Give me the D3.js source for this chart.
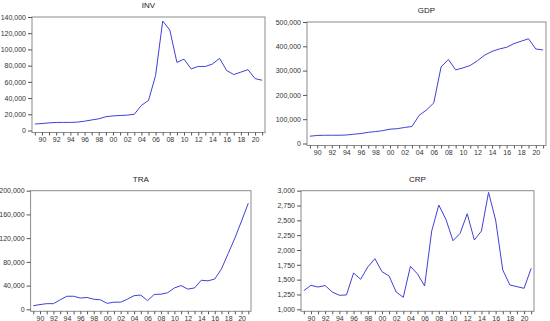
<!DOCTYPE html>
<html>
<head>
<meta charset="utf-8">
<script src="https://cdn.jsdelivr.net/npm/d3@7"></script>
<style>
  body { margin: 0; background: #fff; }
  svg { display: block; font-family: "Liberation Sans", Arial, sans-serif; }
</style>
</head>
<body>
<svg id="chart" width="550" height="321"></svg>
<script>
// years 1989..2021
const years = d3.range(1989, 2022);

const inv = [8000, 8600, 9400, 9900, 10000, 10000, 10300, 11500, 13000, 14400,
  17000, 18000, 18500, 19000, 20000, 31000, 37000, 68000, 135000, 124000,
  84000, 88000, 76000, 79000, 79000, 82000, 89000, 74000, 69000, 72000,
  75000, 64000, 62000];

const gdp = [30000, 33000, 34000, 34000, 34000, 35000, 38000, 41000, 46000, 49000,
  53000, 59000, 61000, 66000, 70000, 116000, 138000, 167000, 315000, 346000,
  303000, 311000, 321000, 341000, 364000, 379000, 389000, 396000, 411000, 421000,
  431000, 389000, 385000];

const tra = [6000, 8000, 9500, 9500, 16000, 22000, 22000, 19000, 20000, 17000,
  16000, 10000, 12000, 12000, 17000, 23000, 24000, 14600, 25000, 25500,
  28000, 36000, 40000, 34000, 36000, 49000, 48000, 51000, 68000, 94000,
  120000, 149000, 179000];

const crp = [1315, 1405, 1376, 1400, 1292, 1236, 1242, 1612, 1506, 1713,
  1854, 1635, 1562, 1292, 1202, 1725, 1596, 1393, 2320, 2758,
  2517, 2157, 2281, 2612, 2168, 2320, 2972, 2506, 1663, 1410,
  1382, 1354, 1690];

const invTicks = d3.range(0, 140001, 20000);
const gdpTicks = d3.range(0, 500001, 100000);
const traTicks = d3.range(0, 200001, 40000);
const crpTicks = d3.range(1000, 3001, 250);

const panels = [
  {title: 'INV', values: inv, ticks: invTicks, box: {l: 32, r: 265, t: 17, b: 132.5}},
  {title: 'GDP', values: gdp, ticks: gdpTicks, box: {l: 307, r: 546, t: 22, b: 145.5}},
  {title: 'TRA', values: tra, ticks: traTicks, box: {l: 30.6, r: 251, t: 190.7, b: 311.3}},
  {title: 'CRP', values: crp, ticks: crpTicks, box: {l: 301, r: 534, t: 190.7, b: 311.3}}
];

const svg = d3.select('#chart');
const lineColor = '#4040d8';

panels.forEach(p => {
  const b = p.box;
  const g = svg.append('g');

  const x = d3.scaleLinear()
    .domain([1989 - 0.4, 2021 + 0.4])
    .range([b.l, b.r]);
  const y = d3.scaleLinear()
    .domain(d3.extent(p.ticks))
    .range([b.b - 2, b.t]);

  // frame
  g.append('rect')
    .attr('x', b.l).attr('y', b.t)
    .attr('width', b.r - b.l).attr('height', b.b - b.t)
    .attr('fill', 'none')
    .attr('stroke', '#8c8c8c')
    .attr('stroke-width', 1);

  // y axis
  const yAxis = g.append('g')
    .attr('transform', `translate(${b.l},0)`)
    .call(d3.axisLeft(y).tickValues(p.ticks).tickFormat(d3.format(',')).tickSize(4).tickPadding(2));
  yAxis.select('.domain').remove();

  // x axis, tick every year, label every other
  const xAxis = g.append('g')
    .attr('transform', `translate(0,${b.b})`)
    .call(d3.axisBottom(x).tickValues(years)
      .tickFormat(d => d % 2 === 0 ? d3.format('02d')(d % 100) : '')
      .tickSize(3).tickPadding(2));
  xAxis.select('.domain').remove();

  g.selectAll('.tick line').attr('stroke', '#555');
  g.selectAll('.tick text')
    .attr('fill', '#333')
    .style('font-size', '7px');

  // title
  g.append('text')
    .attr('x', (b.l + b.r) / 2)
    .attr('y', b.t - 9)
    .attr('text-anchor', 'middle')
    .attr('fill', '#222')
    .style('font-size', '8px')
    .text(p.title);

  // series
  const line = d3.line()
    .x((d, i) => x(years[i]))
    .y(d => y(d));
  g.append('path')
    .datum(p.values)
    .attr('fill', 'none')
    .attr('stroke', lineColor)
    .attr('stroke-width', 1)
    .attr('d', line);
});
</script>
</body>
</html>
